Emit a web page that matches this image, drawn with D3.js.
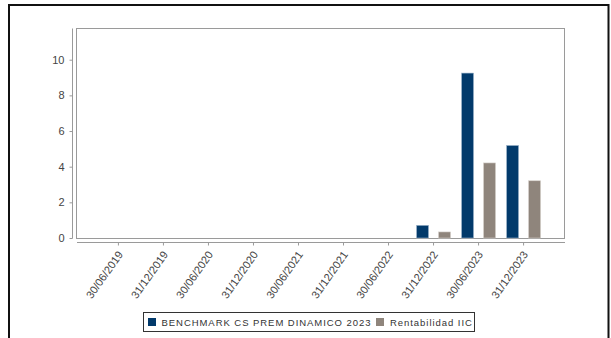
<!DOCTYPE html>
<html>
<head>
<meta charset="utf-8">
<script src="https://cdn.jsdelivr.net/npm/d3@7"></script>
<style>
  html, body { margin: 0; padding: 0; background: #fff; }
  svg { display: block; }
  text { font-family: "Liberation Sans", Arial, sans-serif; }
</style>
</head>
<body>
<svg id="chart" width="611" height="338"></svg>
<script>
// Period-end dates on the category axis
const fechas = ["30/06/2019", "31/12/2019", "30/06/2020", "31/12/2020", "30/06/2021",
                "31/12/2021", "30/06/2022", "31/12/2022", "30/06/2023", "31/12/2023"];
// Series names
const series = ["BENCHMARK CS PREM DINAMICO 2023", "Rentabilidad IIC"];
// Returns (%) per date; null where the series has no value yet
const benchmark = [null, null, null, null, null, null, null, 0.71, 9.25, 5.19];
const rentabilidad = [null, null, null, null, null, null, null, 0.34, 4.21, 3.21];
// Y axis ticks
const yTicks = [0, 2, 4, 6, 8, 10];
const colores = ["#023a6b", "#8f857c"];

const svg = d3.select("#chart");

// Outer panel border (open at the bottom)
svg.append("path")
  .attr("d", "M9,338V5H608.5V338")
  .attr("fill", "none")
  .attr("stroke", "#111")
  .attr("stroke-width", 2);

const plot = { left: 76.5, right: 564.5, top: 28.5, bottom: 238 };

const y = d3.scaleLinear().domain([0, 11.75]).range([plot.bottom, plot.top]);
const x0 = d3.scaleBand().domain(fechas).range([77, 565]).paddingInner(0).paddingOuter(0.42);
const x1 = d3.scaleBand().domain(series).range([5.5, 39.5]).paddingInner(0.4545);

// Plot frame
svg.append("rect")
  .attr("x", plot.left).attr("y", plot.top)
  .attr("width", plot.right - plot.left).attr("height", plot.bottom - plot.top + 0.5)
  .attr("fill", "#fff").attr("stroke", "#9a9a9a").attr("stroke-width", 1);

// Y axis, set slightly left of the frame
const yAxis = svg.append("g")
  .attr("transform", "translate(72.5,0)")
  .call(d3.axisLeft(y).tickValues(yTicks).tickSize(3).tickPadding(5).tickFormat(d3.format("d")));
yAxis.select(".domain").attr("d", `M0,${plot.top}V${plot.bottom + 0.5}`).attr("stroke", "#9a9a9a");
yAxis.selectAll(".tick line").attr("stroke", "#9a9a9a");
yAxis.selectAll(".tick text").attr("font-size", 11).attr("fill", "#444")
  .attr("font-family", "Liberation Sans, Arial, sans-serif");

// X axis, set slightly below the frame
const xAxis = svg.append("g")
  .attr("transform", "translate(0,242.5)")
  .call(d3.axisBottom(x0).tickSize(3).tickSizeOuter(0));
xAxis.select(".domain").attr("d", "M77,0H565").attr("stroke", "#9a9a9a");
xAxis.selectAll(".tick line").attr("stroke", "#9a9a9a");
xAxis.selectAll(".tick text")
  .attr("font-size", 11).attr("fill", "#444")
  .attr("font-family", "Liberation Sans, Arial, sans-serif")
  .attr("text-anchor", "end")
  .attr("dy", null)
  .attr("y", 0)
  .attr("transform", "translate(5,12) rotate(-55)");

// Bars
const rows = fechas.map((f, i) => ({ fecha: f, valores: [benchmark[i], rentabilidad[i]] }));
const groups = svg.append("g").selectAll("g").data(rows).join("g")
  .attr("transform", d => `translate(${x0(d.fecha)},0)`);
groups.selectAll("rect")
  .data(d => d.valores.map((v, j) => ({ serie: series[j], v, j })).filter(d => d.v !== null))
  .join("rect")
  .attr("x", d => x1(d.serie))
  .attr("width", x1.bandwidth())
  .attr("y", d => y(d.v))
  .attr("height", d => y(0) - y(d.v))
  .attr("fill", d => colores[d.j])
  .attr("stroke", d => d.j === 0 ? "#9fb6cc" : "#d6d0ca")
  .attr("stroke-width", 0.6);

// Legend
const legend = svg.append("g");
legend.append("rect")
  .attr("x", 143.5).attr("y", 312.5).attr("width", 331).attr("height", 19)
  .attr("fill", "#fff").attr("stroke", "#333").attr("stroke-width", 1);
const legendItems = [
  { x: 148, tx: 161.5 },
  { x: 376, tx: 390 }
];
legendItems.forEach((it, j) => {
  legend.append("rect").attr("x", it.x).attr("y", 318).attr("width", 8).attr("height", 8)
    .attr("fill", colores[j]);
  legend.append("text").attr("x", it.tx).attr("y", 325.5)
    .attr("font-size", 9.5).attr("letter-spacing", 0.95).attr("fill", "#333")
    .text(series[j]);
});
</script>
</body>
</html>
